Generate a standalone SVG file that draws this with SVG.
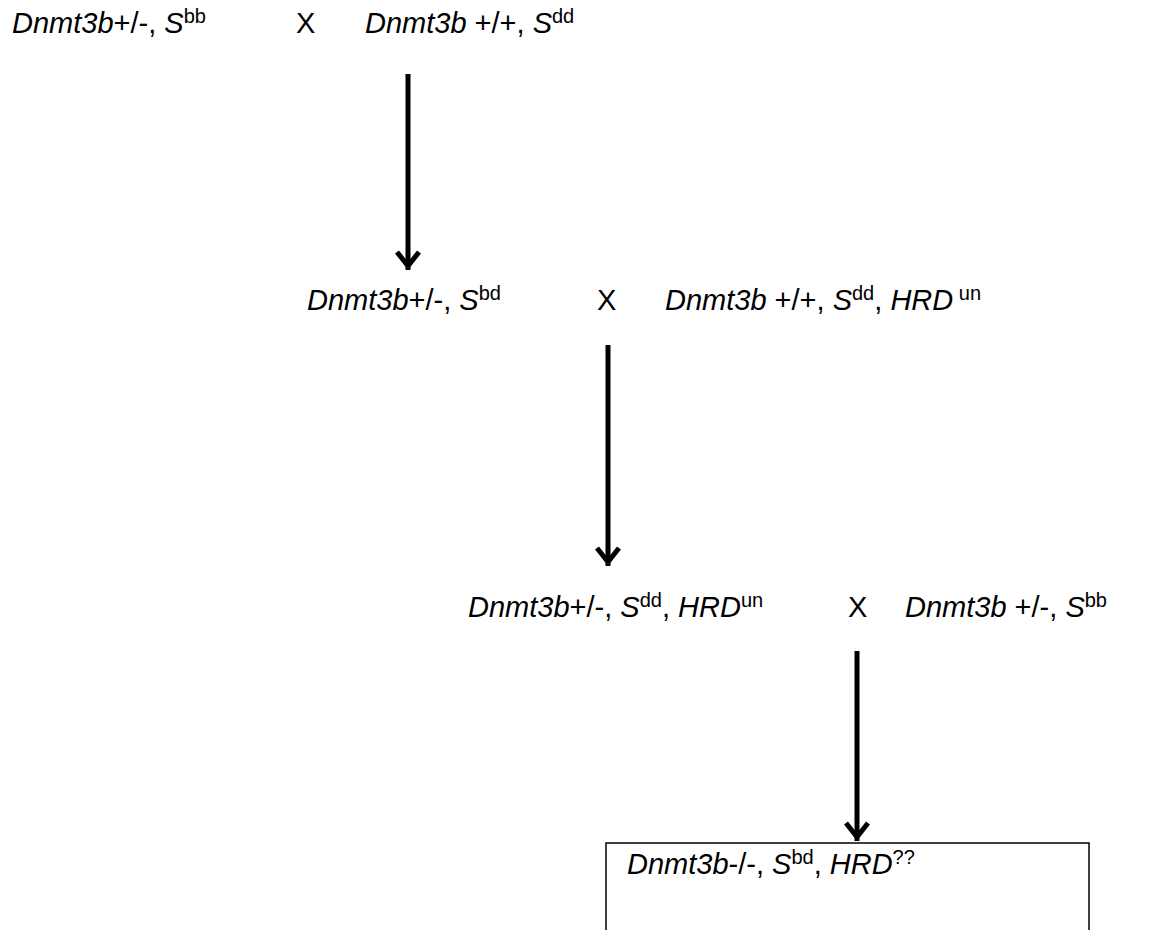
<svg xmlns="http://www.w3.org/2000/svg" width="1150" height="930" viewBox="0 0 1150 930">
<style>
text{font-family:"Liberation Sans",Arial,sans-serif;font-size:29px;fill:#000}
.i{font-style:italic}
.sup{font-size:20px;font-style:normal}
.conn{stroke:#000;stroke-width:5;fill:none}
.head{stroke:#000;stroke-width:5;fill:none;stroke-linecap:butt;stroke-linejoin:miter}
</style>
<rect width="1150" height="930" fill="#fff"/>
<g id="cross1">
<text x="12" y="33"><tspan class="i">Dnmt3b</tspan><tspan>+/-, </tspan><tspan class="i">S</tspan><tspan class="sup" dy="-10">bb</tspan></text>
<text x="296" y="33">X</text>
<text x="365" y="33"><tspan class="i">Dnmt3b</tspan><tspan> +/+, </tspan><tspan class="i">S</tspan><tspan class="sup" dy="-10">dd</tspan></text>
</g>
<g id="cross2">
<text x="307" y="310"><tspan class="i">Dnmt3b</tspan><tspan>+/-, </tspan><tspan class="i">S</tspan><tspan class="sup" dy="-10">bd</tspan></text>
<text x="597" y="310">X</text>
<text x="665" y="310"><tspan class="i">Dnmt3b</tspan><tspan> +/+, </tspan><tspan class="i">S</tspan><tspan class="sup" dy="-10">dd</tspan><tspan dy="10">, </tspan><tspan class="i">HRD</tspan><tspan class="sup" dy="-10"> un</tspan></text>
</g>
<g id="cross3">
<text x="468" y="617"><tspan class="i">Dnmt3b</tspan><tspan>+/-, </tspan><tspan class="i">S</tspan><tspan class="sup" dy="-10">dd</tspan><tspan dy="10">, </tspan><tspan class="i">HRD</tspan><tspan class="sup" dy="-10">un</tspan></text>
<text x="848" y="617">X</text>
<text x="905" y="617"><tspan class="i">Dnmt3b</tspan><tspan> +/-, </tspan><tspan class="i">S</tspan><tspan class="sup" dy="-10">bb</tspan></text>
</g>
<g id="result">
<rect x="606" y="843" width="483" height="100" fill="#fff" stroke="#000" stroke-width="1.5"/>
<text x="627" y="874"><tspan class="i">Dnmt3b</tspan><tspan>-/-, </tspan><tspan class="i">S</tspan><tspan class="sup" dy="-10">bd</tspan><tspan dy="10">, </tspan><tspan class="i">HRD</tspan><tspan class="sup" dy="-10">??</tspan></text>
</g>
<g id="connectors">
<line class="conn" x1="408" y1="74" x2="408" y2="270"/>
<polyline class="head" points="397,252 408,266 419,252"/>
<line class="conn" x1="608" y1="345" x2="608" y2="566"/>
<polyline class="head" points="597,548 608,562 619,548"/>
<line class="conn" x1="857" y1="651" x2="857" y2="841"/>
<polyline class="head" points="846,823 857,837 868,823"/>
</g>
</svg>
